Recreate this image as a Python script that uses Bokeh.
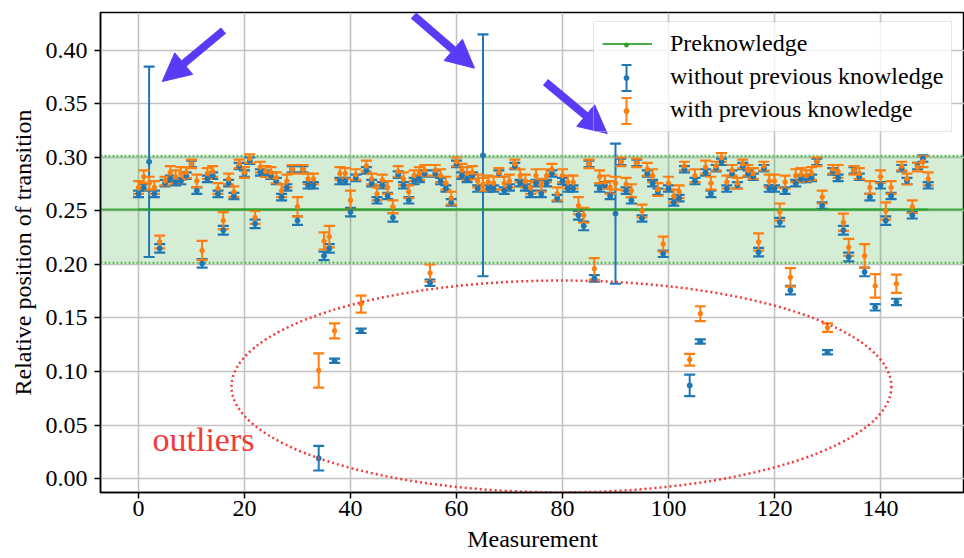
from bokeh.plotting import figure
from bokeh.models import (ColumnDataSource, Whisker, TeeHead, BoxAnnotation, Span, Range1d,
                          FixedTicker, PrintfTickFormatter, Legend, LegendItem, Arrow,
                          NormalHead, Label)
from bokeh.embed import file_html
from bokeh.resources import INLINE

# ---------------- data ----------------
measurement = list(range(150))

without_prev = [
    .266, .272, .296, .266, .215, .276, .280, .277, .278, .283,
    .294, .269, .201, .280, .283, .266, .232, .276, .264, .292,
    .285, .297, .238, .286, .285, .283, .278, .263, .272, .289,
    .241, .289, .274, .274, .019, .208, .215, .110, .278, .278,
    .249, .281, .138, .288, .276, .260, .274, .264, .244, .284,
    .274, .260, .278, .280, .285, .183, .285, .278, .271, .258,
    .294, .283, .280, .283, .271, .302, .271, .271, .285, .269,
    .272, .292, .276, .272, .266, .276, .266, .276, .285, .262,
    .278, .271, .271, .246, .236, .294, .187, .271, .274, .264,
    .2475, .296, .269, .260, .295, .243, .285, .276, .268, .210,
    .271, .258, .262, .289, .087, .278, .128, .286, .266, .290,
    .296, .271, .285, .274, .292, .285, .282, .2115, .290, .271,
    .271, .2395, .269, .176, .276, .280, .280, .281, .296, .255,
    .118, .287, .281, .232, .207, .288, .282, .193, .263, .160,
    .274, .241, .264, .165, .290, .278, .246, .292, .299, .274,
]
without_err = [
    .003, .003, .089, .003, .004, .003, .003, .003, .003, .003,
    .003, .003, .004, .003, .003, .003, .004, .003, .003, .003,
    .003, .003, .004, .003, .003, .003, .003, .003, .003, .003,
    .004, .003, .003, .003, .0115, .004, .004, .002, .003, .003,
    .004, .003, .002, .003, .003, .003, .003, .003, .004, .003,
    .003, .003, .003, .003, .003, .003, .003, .003, .003, .003,
    .003, .003, .003, .003, .003, .113, .003, .003, .003, .003,
    .003, .003, .003, .003, .003, .003, .003, .003, .003, .003,
    .003, .003, .003, .004, .004, .003, .003, .003, .003, .003,
    .0655, .003, .003, .003, .003, .003, .003, .003, .003, .003,
    .003, .003, .003, .003, .010, .003, .002, .003, .003, .003,
    .003, .003, .003, .003, .003, .003, .003, .004, .003, .003,
    .003, .004, .003, .004, .003, .003, .003, .003, .003, .003,
    .002, .003, .003, .004, .004, .003, .003, .004, .003, .003,
    .003, .004, .003, .003, .003, .003, .003, .003, .003, .003,
]
with_prev = [
    .272, .282, .276, .272, .221, .278, .286, .282, .285, .286,
    .294, .278, .213, .285, .287, .271, .241, .280, .268, .294,
    .286, .299, .244, .291, .287, .286, .281, .269, .278, .289,
    .254, .289, .280, .280, .101, .222, .226, .138, .285, .285,
    .260, .284, .163, .292, .280, .266, .279, .272, .254, .287,
    .280, .268, .283, .285, .288, .192, .288, .283, .276, .262,
    .296, .288, .285, .286, .278, .275, .277, .276, .286, .276,
    .278, .294, .283, .278, .272, .283, .274, .283, .289, .266,
    .283, .277, .277, .255, .246, .294, .196, .282, .277, .272,
    .276, .296, .275, .269, .295, .250, .289, .283, .270, .219,
    .276, .264, .268, .292, .111, .283, .154, .291, .276, .292,
    .300, .277, .288, .276, .294, .288, .285, .221, .292, .278,
    .278, .249, .277, .188, .283, .284, .283, .285, .296, .263,
    .141, .289, .287, .2395, .216, .288, .285, .208, .272, .180,
    .282, .250, .272, .182, .292, .280, .254, .291, .296, .280,
]
with_err = [
    .006, .006, .006, .006, .006, .004, .006, .006, .006, .005,
    .004, .006, .009, .005, .005, .005, .008, .005, .005, .004,
    .005, .004, .006, .005, .005, .005, .005, .006, .006, .004,
    .009, .004, .005, .005, .016, .008, .010, .007, .006, .005,
    .009, .005, .008, .005, .005, .006, .005, .006, .006, .005,
    .006, .006, .005, .006, .005, .008, .005, .006, .006, .006,
    .004, .006, .006, .006, .006, .006, .006, .006, .004, .006,
    .006, .004, .006, .006, .006, .006, .006, .006, .005, .006,
    .006, .006, .006, .008, .007, .004, .010, .006, .006, .006,
    .006, .004, .006, .006, .004, .006, .006, .006, .006, .007,
    .006, .006, .006, .004, .0055, .006, .007, .006, .006, .004,
    .004, .006, .005, .005, .004, .005, .005, .008, .004, .006,
    .006, .008, .006, .0086, .006, .006, .005, .006, .004, .006,
    .004, .004, .006, .008, .008, .004, .005, .011, .006, .011,
    .006, .008, .006, .0085, .004, .005, .006, .004, .005, .006,
]
preknowledge_mean = 0.2515
preknowledge_halfwidth = 0.05

x_ticks = [0, 20, 40, 60, 80, 100, 120, 140]
y_ticks = [0.00, 0.05, 0.10, 0.15, 0.20, 0.25, 0.30, 0.35, 0.40]

labels = ["Preknowledge", "without previous knowledge", "with previous knowledge"]
x_label = "Measurement"
y_label = "Relative position of transition"
annotation_text = "outliers"

# ---------------- style ----------------
BLUE, ORANGE, GREEN = "#1f77b4", "#ff7f0e", "#2ca02c"
RED, ARROW = "#f23a3a", "#583cf5"
FONT = "Liberation Serif"

W, H = 964, 558
FL, FR, FT, FB = 100, 964, 12, 492          # frame edges (px)
X0, X1 = -7.17, 155.85
Y0, Y1 = -0.01308, 0.4355


def dx(px):
    return X0 + (px - FL) * (X1 - X0) / (FR - FL)


def dy(py):
    return Y1 - (py - FT) * (Y1 - Y0) / (FB - FT)


p = figure(width=W, height=H, x_range=Range1d(X0, X1), y_range=Range1d(Y0, Y1),
           output_backend="svg", toolbar_location=None,
           min_border_left=FL, min_border_right=W - FR, min_border_top=FT,
           min_border_bottom=H - FB)
p.background_fill_color = "white"
p.border_fill_color = "white"
p.outline_line_color = "black"
p.outline_line_width = 1.5

p.xaxis.ticker = FixedTicker(ticks=x_ticks)
p.yaxis.ticker = FixedTicker(ticks=y_ticks)
p.yaxis.formatter = PrintfTickFormatter(format="%.2f")
p.xaxis.axis_label = x_label
p.yaxis.axis_label = y_label
for ax in (p.xaxis[0], p.yaxis[0]):
    ax.major_label_text_font = FONT
    ax.major_label_text_font_size = "24px"
    ax.major_label_text_color = "black"
    ax.axis_label_text_font = FONT
    ax.axis_label_text_font_size = "24px"
    ax.axis_label_text_font_style = "normal"
    ax.axis_label_text_color = "black"
    ax.major_tick_out = 6
    ax.major_tick_in = 0
    ax.minor_tick_out = 0
    ax.minor_tick_in = 0
    ax.major_tick_line_width = 1.5
    ax.major_tick_line_color = "black"
    ax.axis_line_color = "black"
    ax.axis_line_width = 1.5
p.xaxis.major_label_standoff = 2
p.xaxis.axis_label_standoff = 7
p.yaxis.major_label_standoff = 7
p.yaxis.axis_label_standoff = 7

p.xgrid.ticker = FixedTicker(ticks=x_ticks)
p.ygrid.ticker = FixedTicker(ticks=y_ticks)
for g in (p.xgrid[0], p.ygrid[0]):
    g.grid_line_color = "#c2c2c2"
    g.grid_line_width = 1.6

# preknowledge band
lo_band = preknowledge_mean - preknowledge_halfwidth
hi_band = preknowledge_mean + preknowledge_halfwidth
p.add_layout(BoxAnnotation(bottom=lo_band, top=hi_band, fill_color=GREEN, fill_alpha=0.2,
                           line_alpha=0, level="underlay"))
for loc in (lo_band, hi_band):
    p.add_layout(Span(location=loc, dimension="width", line_color="#5cbf5c",
                      line_width=2.2, line_dash="2 2", level="underlay"))
p.add_layout(Span(location=preknowledge_mean, dimension="width", line_color=GREEN,
                  line_alpha=0.85, line_width=2, level="underlay"))
r_pk = p.line(x=measurement, y=[preknowledge_mean] * len(measurement),
              line_color=GREEN, line_alpha=0.85, line_width=2)

# error bars
def errorbars(vals, errs, color):
    src = ColumnDataSource(dict(
        x=measurement, y=vals,
        lower=[v - e for v, e in zip(vals, errs)],
        upper=[v + e for v, e in zip(vals, errs)]))
    w = Whisker(source=src, base="x", lower="lower", upper="upper", dimension="height",
                line_color=color, line_width=2, level="underlay",
                lower_head=TeeHead(size=11, line_color=color, line_width=2.2),
                upper_head=TeeHead(size=11, line_color=color, line_width=2.2))
    p.add_layout(w)
    return src

src_b = errorbars(without_prev, without_err, BLUE)
src_o = errorbars(with_prev, with_err, ORANGE)
p.scatter("x", "y", source=src_b, size=5, color=BLUE)
p.scatter("x", "y", source=src_o, size=4.5, color=ORANGE)

# red ellipse + label
p.ellipse(x=[79.8], y=[0.086], width=124.5, height=0.198, fill_alpha=0,
          line_color=RED, line_width=2.5, line_dash="2 3")
p.add_layout(Label(x=dx(152), y=dy(439), text=annotation_text, text_font=FONT,
                   text_font_size="34px", text_color=RED, text_baseline="alphabetic"))

# legend (translucent white backing drawn below the glyph overlays)
p.add_layout(BoxAnnotation(left=dx(593), right=dx(951), top=dy(22), bottom=dy(131),
                           fill_color="white", fill_alpha=0.8, line_alpha=0,
                           level="annotation"))
r_bl = p.scatter(x=[], y=[], marker="circle", size=1, fill_alpha=0, line_alpha=0)
r_ol = p.scatter(x=[], y=[], marker="circle", size=1, fill_alpha=0, line_alpha=0)
legend = Legend(items=[LegendItem(label=labels[0], renderers=[r_pk]),
                       LegendItem(label=labels[1], renderers=[r_bl]),
                       LegendItem(label=labels[2], renderers=[r_ol])],
                location=(593 - FL, FB - 132), orientation="vertical", margin=0,
                padding=8, spacing=6, glyph_width=50, glyph_height=27, label_height=27,
                label_standoff=18, label_text_font=FONT, label_text_font_size="24px",
                label_text_color="black", border_line_color="#cccccc",
                border_line_width=1.5, background_fill_alpha=0.0)
p.add_layout(legend)

# legend glyph overlays (I-beams and dots)
gx = dx(626)
for cy, color in ((77.5, BLUE), (110.5, ORANGE)):
    src = ColumnDataSource(dict(x=[gx], lo=[dy(cy + 13)], hi=[dy(cy - 13)]))
    p.add_layout(Whisker(source=src, base="x", lower="lo", upper="hi", dimension="height",
                         line_color=color, line_width=2, level="overlay",
                         lower_head=TeeHead(size=10, line_color=color, line_width=2),
                         upper_head=TeeHead(size=10, line_color=color, line_width=2)))
    rd = p.scatter(x=[gx], y=[dy(cy)], size=5, color=color)
    rd.level = "overlay"
rg = p.scatter(x=[gx], y=[dy(44.5)], size=4, color=GREEN)
rg.level = "overlay"

# arrows
for (sx0, sy0, sx1, sy1) in ((223, 30, 161.7, 81), (413, 15, 474, 67.7), (545, 81.7, 606.7, 133)):
    p.add_layout(Arrow(x_start=dx(sx0), y_start=dy(sy0), x_end=dx(sx1), y_end=dy(sy1),
                       line_color=ARROW, line_width=8, level="overlay",
                       end=NormalHead(size=28, fill_color=ARROW, line_color=ARROW)))

open("out.html", "w").write(file_html(p, INLINE))
